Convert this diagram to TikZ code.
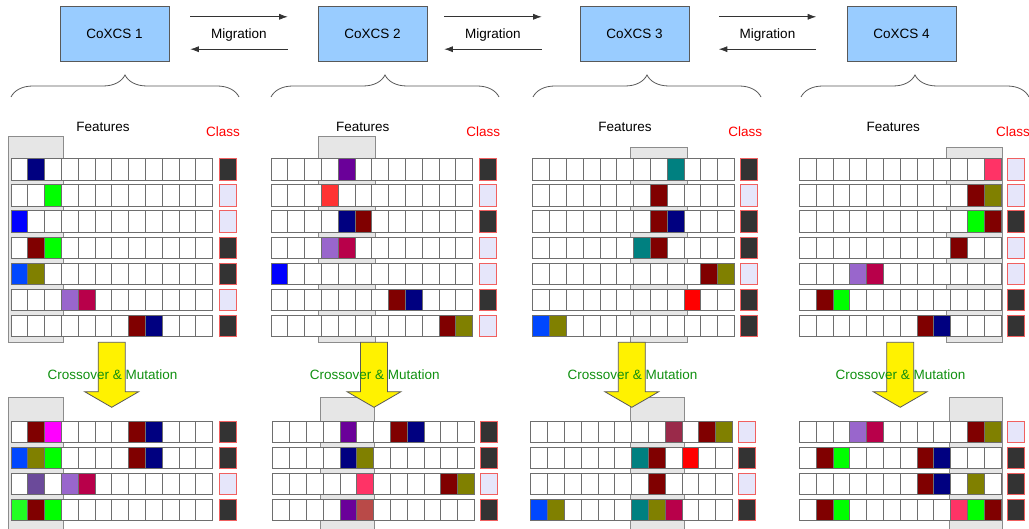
\documentclass[tikz,border=0pt]{standalone}
\usepackage{fontspec}
\setmainfont{Liberation Sans}
\usetikzlibrary{arrows.meta,decorations.pathreplacing}

\definecolor{sysblue}{HTML}{99CCFF}
\definecolor{cellline}{HTML}{6E6E6E}
\definecolor{selgray}{HTML}{E6E6E6}
\definecolor{selline}{HTML}{8C8C8C}
\definecolor{clsdark}{HTML}{333333}
\definecolor{clslight}{HTML}{E6E6FA}
\definecolor{clsline}{HTML}{F06060}
\definecolor{cmgreen}{HTML}{109010}
\definecolor{navy}{HTML}{000080}
\definecolor{maroon}{HTML}{800000}
\definecolor{lime}{HTML}{00FF00}
\definecolor{blue}{HTML}{0000FF}
\definecolor{azure}{HTML}{0047FF}
\definecolor{olive}{HTML}{808000}
\definecolor{lilac}{HTML}{9966CC}
\definecolor{crimson}{HTML}{B8004A}
\definecolor{purple}{HTML}{6A0099}
\definecolor{lightred}{HTML}{FF3333}
\definecolor{teal}{HTML}{008080}
\definecolor{red}{HTML}{FF0000}
\definecolor{pinkred}{HTML}{FF3366}
\definecolor{magenta}{HTML}{FF00FF}
\definecolor{dpurple}{HTML}{6B4A9A}
\definecolor{brightgreen}{HTML}{22FF22}
\definecolor{brownred}{HTML}{B94A48}
\definecolor{rose}{HTML}{9A2A4A}

\tikzset{
  sys/.style={draw=gray!70!black, fill=sysblue, minimum width=109pt, minimum height=55pt, inner sep=0pt, font=\fontsize{13.5}{16}\selectfont},
  mig/.style={minimum width=97pt, minimum height=32pt, inner sep=0pt, text height=11.4pt, text depth=0pt, font=\fontsize{13.5}{16}\selectfont},
  migline/.style={draw=black!80, line width=0.7pt, -{Latex[length=8.5pt,width=6pt]}},
  bracepath/.style={draw=black!65, line width=0.8pt, decorate, decoration={brace, amplitude=22pt}},
  feat/.style={font=\fontsize{13.5}{16}\selectfont, inner sep=0pt},
  cls/.style={font=\fontsize{13.5}{16}\selectfont, text=red, inner sep=0pt},
  crossmut/.style={font=\fontsize{13.5}{16}\selectfont, text=cmgreen, inner sep=0pt},
  cellbox/.style={draw=cellline, fill=white, line width=0.8pt},
  classbox/.style={draw=clsline, line width=0.8pt},
  selbox/.style={draw=selline, fill=selgray, line width=0.8pt},
  gaarrow/.style={draw=black!65, fill=yellow, line width=0.8pt}
}

\newcommand{\featrow}[4]{%
  \foreach \i in {0,...,11}
    \draw[cellbox] ({#1+\i*16.8},#2) rectangle ++(16.8,21.3);
  \foreach \i/\col in {#3}
    \draw[cellbox, fill=\col] ({#1+(\i-1)*16.8},#2) rectangle ++(16.8,21.3);
  \draw[classbox, fill=#4] ({#1+208},#2) rectangle ++(17,21.3);
}

\newcommand{\gaarrow}[1]{%
  \draw[gaarrow] ({#1-13.5},342.3) -- ({#1+13.5},342.3) -- ({#1+13.5},391.7) -- ({#1+27},391.7)
    -- (#1,407.3) -- ({#1-27},391.7) -- ({#1-13.5},391.7) -- cycle;
}

\begin{document}
\begin{tikzpicture}[x=1pt,y=-1pt]
        \useasboundingbox (0,0) rectangle (1029,529);
        \node[sys] (cx1) at (114.5,33.5) {CoXCS 1};
        \node[sys] (cx2) at (372.5,33.5) {CoXCS 2};
        \node[sys] (cx3) at (634.5,33.5) {CoXCS 3};
        \node[sys] (cx4) at (901.5,33.5) {CoXCS 4};
        \node[mig] (m12) at (239,33) {Migration};
        \node[mig] (m23) at (493,33) {Migration};
        \node[mig] (m34) at (767.5,33) {Migration};
        \draw[migline] (m12.north west) -- (m12.north east);
        \draw[migline] (m12.south east) -- (m12.south west);
        \draw[migline] (m23.north west) -- (m23.north east);
        \draw[migline] (m23.south east) -- (m23.south west);
        \draw[migline] (m34.north west) -- (m34.north east);
        \draw[migline] (m34.south east) -- (m34.south west);
        \draw[bracepath] (11,97) -- (239,97);
        \draw[bracepath] (271,97) -- (499,97);
        \draw[bracepath] (533,97) -- (761,97);
        \draw[bracepath] (801,97) -- (1029,97);
        \node[feat] (f1) at (103,127.2) {Features};
        \node[feat] (f2) at (362.7,127.2) {Features};
        \node[feat] (f3) at (625,127.2) {Features};
        \node[feat] (f4) at (893.3,127.2) {Features};
        \node[cls] (c1) at (223,131.2) {Class};
        \node[cls] (c2) at (483.3,131.2) {Class};
        \node[cls] (c3) at (745.3,131.2) {Class};
        \node[cls] (c4) at (1013,131.2) {Class};
        \draw[selbox] (8.3,136) rectangle (63.3,342);
        \draw[selbox] (318.3,136) rectangle (375,342);
        \draw[selbox] (630.3,147.3) rectangle (687,342);
        \draw[selbox] (946.3,147.3) rectangle (1002.7,342);
        \draw[selbox] (8.3,397.3) rectangle (63.3,535);
        \draw[selbox] (320.7,397.3) rectangle (374.7,535);
        \draw[selbox] (630.3,397.3) rectangle (684.7,535);
        \draw[selbox] (949,397.3) rectangle (1002.7,535);
        \featrow{11}{158.7}{2/navy}{clsdark}
        \featrow{11}{184.8}{3/lime}{clslight}
        \featrow{11}{210.9}{1/blue}{clslight}
        \featrow{11}{237.0}{2/maroon,3/lime}{clsdark}
        \featrow{11}{263.1}{1/azure,2/olive}{clsdark}
        \featrow{11}{289.2}{4/lilac,5/crimson}{clslight}
        \featrow{11}{315.3}{8/maroon,9/navy}{clsdark}
        \featrow{271}{158.7}{5/purple}{clsdark}
        \featrow{271}{184.8}{4/lightred}{clslight}
        \featrow{271}{210.9}{5/navy,6/maroon}{clsdark}
        \featrow{271}{237.0}{4/lilac,5/crimson}{clslight}
        \featrow{271}{263.1}{1/blue}{clslight}
        \featrow{271}{289.2}{8/maroon,9/navy}{clsdark}
        \featrow{271}{315.3}{11/maroon,12/olive}{clslight}
        \featrow{532.7}{158.7}{9/teal}{clsdark}
        \featrow{532.7}{184.8}{8/maroon}{clslight}
        \featrow{532.7}{210.9}{8/maroon,9/navy}{clsdark}
        \featrow{532.7}{237.0}{7/teal,8/maroon}{clsdark}
        \featrow{532.7}{263.1}{11/maroon,12/olive}{clslight}
        \featrow{532.7}{289.2}{10/red}{clsdark}
        \featrow{532.7}{315.3}{1/azure,2/olive}{clsdark}
        \featrow{799.3}{158.7}{12/pinkred}{clslight}
        \featrow{799.3}{184.8}{11/maroon,12/olive}{clslight}
        \featrow{799.3}{210.9}{11/lime,12/maroon}{clsdark}
        \featrow{799.3}{237.0}{10/maroon}{clslight}
        \featrow{799.3}{263.1}{4/lilac,5/crimson}{clslight}
        \featrow{799.3}{289.2}{2/maroon,3/lime}{clsdark}
        \featrow{799.3}{315.3}{8/maroon,9/navy}{clsdark}
        \featrow{11}{421}{2/maroon,3/magenta,8/maroon,9/navy}{clsdark}
        \featrow{11}{447.1}{1/azure,2/olive,3/lime,8/maroon,9/navy}{clsdark}
        \featrow{11}{473.2}{2/dpurple,4/lilac,5/crimson}{clslight}
        \featrow{11}{499.3}{1/brightgreen,2/maroon,3/lime}{clsdark}
        \featrow{272.7}{421}{5/purple,8/maroon,9/navy}{clsdark}
        \featrow{272.7}{447.1}{5/navy,6/olive}{clsdark}
        \featrow{272.7}{473.2}{6/pinkred,11/maroon,12/olive}{clslight}
        \featrow{272.7}{499.3}{5/purple,6/brownred}{clsdark}
        \featrow{530.7}{421}{9/rose,11/maroon,12/olive}{clslight}
        \featrow{530.7}{447.1}{7/teal,8/maroon,10/red}{clsdark}
        \featrow{530.7}{473.2}{8/maroon}{clslight}
        \featrow{530.7}{499.3}{1/azure,2/olive,7/teal,8/olive,9/crimson}{clsdark}
        \featrow{799.3}{421}{4/lilac,5/crimson,11/maroon,12/olive}{clslight}
        \featrow{799.3}{447.1}{2/maroon,3/lime,8/maroon,9/navy}{clsdark}
        \featrow{799.3}{473.2}{8/maroon,9/navy,11/olive}{clsdark}
        \featrow{799.3}{499.3}{2/maroon,3/lime,10/pinkred,11/lime,12/maroon}{clsdark}
        \gaarrow{111.7}
        \gaarrow{374}
        \gaarrow{631.8}
        \gaarrow{900.2}
        \node[crossmut] (cm1) at (112.5,374.5) {Crossover \& Mutation};
        \node[crossmut] (cm2) at (374.7,374.5) {Crossover \& Mutation};
        \node[crossmut] (cm3) at (632.5,374.5) {Crossover \& Mutation};
        \node[crossmut] (cm4) at (900.5,374.5) {Crossover \& Mutation};
\end{tikzpicture}
\end{document}
